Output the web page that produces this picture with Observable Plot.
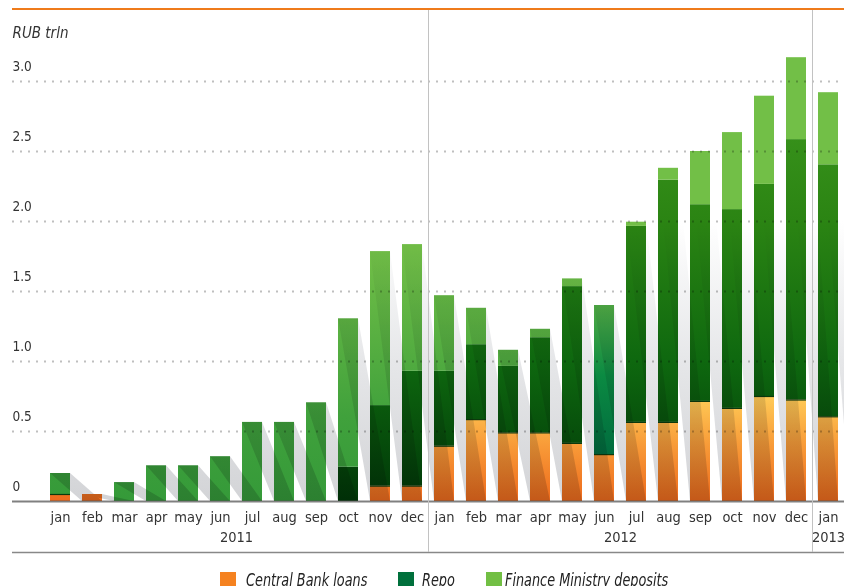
<!DOCTYPE html>
<html><head><meta charset="utf-8">
<script src="https://cdn.jsdelivr.net/npm/d3@7"></script>
<script src="https://cdn.jsdelivr.net/npm/@observablehq/plot@0.6"></script>
<style>
html,body{margin:0;background:#fff;overflow:hidden;}
body{font-family:"Liberation Sans Narrow","DejaVu Sans Condensed","Roboto Condensed",Roboto,sans-serif;color:#333;}
#wrap{width:844px;}
#topline{height:2px;margin:8px 0 0 12px;background:#ef7b1b;}
#chart svg{display:block;}
#legend{position:relative;height:16px;margin-top:2px;font-style:italic;font-size:17px;color:#222;line-height:17px;}
.sw{position:absolute;top:0;width:16px;height:16px;}
.lt{position:absolute;top:0;white-space:nowrap;transform:scaleX(0.84);transform-origin:0 0;}
</style></head><body>
<div id="wrap"><div id="topline"></div><div id="chart"></div><div id="legend"></div></div>
<script>
// ---- data (RUB trln) ----
const monthLabels = ["jan","feb","mar","apr","may","jun","jul","aug","sep","oct","nov","dec",
                     "jan","feb","mar","apr","may","jun","jul","aug","sep","oct","nov","dec",
                     "jan"];
const barYear = [2011,2011,2011,2011,2011,2011,2011,2011,2011,2011,2011,2011,
                 2012,2012,2012,2012,2012,2012,2012,2012,2012,2012,2012,2012,
                 2013];
const cbLoans  = [0.05,0.05,0,0,0,0,0,0,0,0,0.11,0.11,
                  0.395,0.585,0.49,0.49,0.415,0.335,0.565,0.565,0.715,0.665,0.75,0.725,
                  0.605];
const repo     = [0,0,0,0,0,0,0,0,0,0.245,0.575,0.82,
                  0.535,0.535,0.475,0.68,1.12,1.065,1.4,1.73,1.405,1.42,1.515,1.86,
                  1.8];
const deposits = [0.15,0,0.135,0.255,0.255,0.32,0.565,0.565,0.705,1.06,1.1,0.905,
                  0.54,0.26,0.115,0.06,0.055,0,0.03,0.085,0.38,0.55,0.63,0.585,
                  0.515];
const yTicks = [0,0.5,1,1.5,2,2.5,3];
const yTickLabels = ["0","0.5","1.0","1.5","2.0","2.5","3.0"];
const yearLabels = ["2011","2012","2013"];
const series = ["Central Bank loans","Repo","Finance Ministry deposits"];
const unitLabel = "RUB trln";

// ---- derived ----
const hw = 0.3125; // half bar width, in steps
const rows = monthLabels.map((m,i)=>{
  const cb=cbLoans[i], rp=repo[i], dp=deposits[i];
  return {i, month:m, year:barYear[i], cb, rp, dp, t1:cb, t2:cb+rp, total:cb+rp+dp};
});
const special = d => d.year===2012 && d.month==="jun";
const segCB  = rows.filter(d=>d.cb>0).map(d=>({i:d.i, y1:0, y2:d.t1}));
const segRP  = rows.filter(d=>d.rp>0 && !special(d)).map(d=>({i:d.i, y1:d.t1, y2:d.t2}));
const segRPs = rows.filter(d=>d.rp>0 && special(d)).map(d=>({i:d.i, y1:d.t1, y2:d.t2}));
const segDP  = rows.filter(d=>d.dp>0).map(d=>({i:d.i, y1:d.t2, y2:d.total}));
const shade = rows.flatMap(d=>[
  {z:d.i, x:d.i-hw,   y1:d.total,          y2:d.total},
  {z:d.i, x:d.i+hw,   y1:d.total*(1-2*hw), y2:d.total},
  {z:d.i, x:d.i+1-hw, y1:0,                y2:d.total*2*hw},
  {z:d.i, x:d.i+1+hw, y1:0,                y2:0}
]);
const yearSpans = yearLabels.map(y=>{
  const idx = rows.filter(d=>String(d.year)===y).map(d=>d.i);
  return {label:y, first:d3.min(idx), last:d3.max(idx)};
});
const bx1 = d=>d.i-hw, bx2 = d=>d.i+hw;
const font = '"Liberation Sans Narrow","DejaVu Sans Condensed","Roboto Condensed",Roboto,sans-serif';

const plot = Plot.plot({
  width:844, height:560, marginLeft:12, marginRight:0, marginTop:1, marginBottom:69,
  x:{domain:[-1.5, monthLabels.length-0.5], axis:null},
  y:{domain:[0,3.5], axis:null},
  style:{fontFamily:font, fontSize:"14px", color:"#333", background:"transparent", overflow:"visible"},
  marks:[
    Plot.rectY(segCB,  {x1:bx1, x2:bx2, y1:"y1", y2:"y2", fill:"url(#gCB)"}),
    Plot.rectY(segRP,  {x1:bx1, x2:bx2, y1:"y1", y2:"y2", fill:"url(#gRP)"}),
    Plot.rectY(segRPs, {x1:bx1, x2:bx2, y1:"y1", y2:"y2", fill:"url(#gRPs)"}),
    Plot.rectY(segDP,  {x1:bx1, x2:bx2, y1:"y1", y2:"y2", fill:"url(#gDP)"}),
    Plot.ruleY(rows.filter(d=>d.cb>0 && d.cb<d.total), {y:"cb", x1:bx1, x2:bx2, stroke:"#0c3a0c", strokeWidth:1.2}),
    Plot.areaY(shade, {x:"x", y1:"y1", y2:"y2", z:"z", fill:"url(#gShade)", curve:"linear"}),
    Plot.ruleY(yTicks.filter(v=>v>0), {stroke:"#000", strokeOpacity:0.25, strokeWidth:2, strokeDasharray:"2,6"}),
    Plot.ruleY([0], {stroke:"#555", strokeOpacity:0.75, strokeWidth:2}),
    Plot.ruleY([0], {dy:51, stroke:"#888", strokeWidth:1.5}),
    Plot.ruleX(yearSpans.slice(1), {x:d=>d.first-0.5, stroke:"#c2c2c2", strokeWidth:1, insetTop:-1, insetBottom:-51}),
    Plot.text(yTicks, {y:d=>d, frameAnchor:"left", text:(d,i)=>yTickLabels[i], textAnchor:"start", dy:-15, fontSize:13.5, fill:"#333"}),
    Plot.text(rows, {x:"i", y:0, text:"month", dy:16, fontSize:14.5, fill:"#333"}),
    Plot.text(yearSpans, {x:d=>(d.first+d.last)/2, y:0, text:"label", dy:36, fontSize:14.5, fill:"#333"}),
    Plot.text([unitLabel], {frameAnchor:"top-left", text:d=>d, dy:16, textAnchor:"start", fontStyle:"italic", fontSize:15, fill:"#333"})
  ]
});
document.getElementById("chart").appendChild(plot);

// gradients positioned through the y scale
const ys = plot.scale("y");
const defs = d3.select(plot).insert("defs", ":first-child");
function grad(id, stops){
  const v0 = stops[0][0], v1 = stops[stops.length-1][0];
  const g = defs.append("linearGradient").attr("id", id).attr("gradientUnits","userSpaceOnUse")
    .attr("x1",0).attr("x2",0).attr("y1", ys.apply(v0)).attr("y2", ys.apply(v1));
  stops.forEach(([v,c])=>g.append("stop").attr("offset",(v-v0)/(v1-v0)).attr("stop-color",c));
}
grad("gCB",   [[0,"#ee6a1c"],[0.4,"#f89b38"],[0.75,"#ffcb57"]]);
grad("gRP",   [[0,"#003808"],[1,"#0e680f"],[2,"#2b8413"],[2.6,"#36901a"]]);
grad("gRPs",  [[0.3,"#006a3e"],[0.9,"#0b8a42"],[1.4,"#50ab45"]]);
grad("gDP",   [[0,"#359a39"],[0.6,"#40a13c"],[1.8,"#72bf47"],[3.2,"#72bf47"]]);
grad("gShade",[[0,"#d3d4d7"],[1,"#e6e7e9"],[2,"#ffffff"]]);
d3.select(plot).selectAll('g[aria-label="area"]').style("mix-blend-mode","multiply");

// legend
const legendColors = ["#f58220","#00703c","#72bf44"];
const swatchLeft = [220, 398, 486];
const textLeft = [246, 422, 505];
const lg = d3.select("#legend");
series.forEach((s,k)=>{
  lg.append("div").attr("class","sw").style("left", swatchLeft[k]+"px").style("background", legendColors[k]);
  lg.append("span").attr("class","lt").style("left", textLeft[k]+"px").text(s);
});
</script></body></html>
